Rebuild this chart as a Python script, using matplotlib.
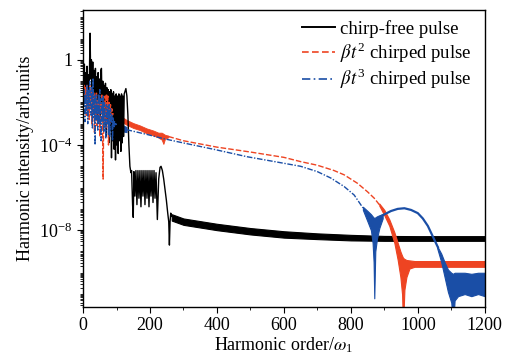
import numpy as np
import matplotlib
matplotlib.use("Agg")
from matplotlib import pyplot as plt
from matplotlib.ticker import FixedLocator, LogLocator, MultipleLocator, NullFormatter

plt.rcParams['font.family'] = ['Liberation Serif', 'DejaVu Serif']
plt.rcParams['mathtext.fontset'] = 'stix'

# ---- data (y values as log10 of intensity) ----
# chirp-free pulse: noisy low orders, comb, hump
black_x = [0, 2, 4, 6, 8, 10, 12, 14, 16, 18, 20, 21, 23, 25, 27, 29, 31, 33, 35, 37,
           39, 41, 43, 45, 47, 49, 51, 53, 55, 57, 59, 61, 63, 65, 67, 69, 71, 73, 75, 77,
           79, 81, 83, 85, 87, 89, 91, 93, 95, 97, 99, 101, 103, 105, 107, 109, 111, 113,
           115, 117, 119, 121, 123, 125, 128, 131, 134, 137, 140, 143, 145, 148, 150, 152,
           155, 158, 161, 164, 167, 170, 173, 176, 179, 182, 185, 188, 191, 194, 197, 200,
           203, 206, 209, 212, 215, 218, 222, 226, 230, 233, 237, 241, 245, 249, 253, 256,
           258, 260, 262, 265]
black_logy = [-0.6, -1.8, -0.2, -2.0, -0.6, -1.6, -0.3, -2.2, -0.7, -1.9, 0.3, 1.25, -0.9,
              0.0, -1.8, -0.1, -2.0, -0.5, -2.4, -0.4, -1.9, -0.8, -2.6, -0.6, -2.2, -0.9,
              -3.0, -0.5, -0.4, -2.5, -1.0, -3.2, -1.2, -2.8, -1.1, -3.6, -1.3, -3.0, -1.4,
              -3.9, -1.5, -3.3, -1.4, -4.6, -1.6, -3.8, -1.5, -4.2, -1.7, -4.7, -1.6, -4.0,
              -1.7, -4.4, -1.6, -3.8, -1.7, -4.3, -1.6, -3.9, -1.7, -3.6, -1.6, -1.5, -1.35,
              -1.7, -2.6, -4.0, -5.0, -5.3, -5.2, -6.8, -7.4, -5.25, -6.4, -5.2, -6.8, -5.2,
              -6.5, -5.2, -6.9, -5.2, -6.4, -5.2, -6.8, -5.2, -6.5, -5.2, -6.9, -5.2, -6.4,
              -5.2, -6.7, -5.2, -6.5, -5.3, -7.5, -5.6, -5.05, -5.0, -5.2, -5.6, -6.1, -6.6,
              -7.2, -7.6, -8.7, -7.6, -7.2, -7.35]
# chirp-free plateau band (upper / lower edge)
black_band_x = [265, 300, 400, 500, 600, 700, 800, 900, 1000, 1100, 1200]
black_band_hi = [-7.25, -7.45, -7.7, -7.9, -8.05, -8.15, -8.22, -8.27, -8.28, -8.28, -8.28]
black_band_lo = [-7.55, -7.75, -8.0, -8.2, -8.35, -8.42, -8.48, -8.5, -8.5, -8.5, -8.5]

# beta t^2 chirped pulse
red_x = [0, 2, 4, 6, 8, 10, 12, 14, 16, 18, 20, 22, 24, 26, 28, 30, 32, 34, 36, 38, 40,
         42, 44, 46, 48, 50, 52, 54, 56, 58, 60, 62, 64, 66, 68, 70, 72, 74, 76, 78, 80,
         82, 84, 86, 88, 90]
red_logy = [-0.8, -1.8, -1.2, -2.0, -1.3, -2.6, -1.2, -2.4, -1.6, -2.8, -1.2, -2.3, -1.4,
            -3.0, -1.6, -2.5, -1.5, -3.4, -1.8, -2.6, -1.5, -3.1, -1.9, -2.7, -1.7, -3.6,
            -1.9, -2.5, -1.6, -3.0, -5.6, -2.2, -2.8, -1.7, -3.2, -1.6, -2.6, -1.7, -4.0,
            -2.0, -3.0, -2.1, -2.9, -2.3, -2.6, -2.5]
red_band_x = [90, 110, 130, 150, 170, 190, 210, 225, 235, 240, 245, 255]
red_band_hi = [-2.4, -2.62, -2.82, -2.97, -3.08, -3.22, -3.32, -3.42, -3.42, -3.47, -3.52, -3.56]
red_band_lo = [-2.6, -2.85, -3.05, -3.2, -3.3, -3.45, -3.55, -3.65, -3.75, -3.95, -3.7, -3.64]
red_dash_x = [255, 300, 400, 500, 600, 650, 700, 750, 780, 800, 820, 850, 870, 890]
red_dash_logy = [-3.6, -3.8, -4.1, -4.33, -4.58, -4.78, -4.95, -5.2, -5.4, -5.6, -5.8,
                 -6.2, -6.5, -6.9]
red_tail_x = [885, 900, 915, 930, 940, 948, 953, 956, 960, 966, 975, 990, 1050, 1100,
              1150, 1200]
red_tail_hi = [-6.75, -7.05, -7.5, -8.1, -8.6, -9.0, -9.2, -9.3, -9.35, -9.4, -9.42,
               -9.45, -9.45, -9.45, -9.45, -9.45]
red_tail_lo = [-6.85, -7.3, -7.8, -8.6, -9.4, -10.2, -11.0, -12.5, -10.8, -10.2, -9.8,
               -9.72, -9.72, -9.72, -9.72, -9.72]

# beta t^3 chirped pulse
blue_x = [0, 2, 4, 6, 8, 10, 12, 14, 16, 18, 20, 22, 24, 26, 28, 30, 32, 34, 36, 38, 40,
          42, 44, 46, 48, 50, 52, 54, 56, 58, 60, 62, 64, 66, 68, 70, 72, 74, 76, 78, 80,
          82, 84, 86, 88, 90, 92, 94, 96, 98, 100]
blue_logy = [-1.0, -2.2, -1.4, -2.9, -1.6, -2.5, -1.2, -3.0, -1.4, -2.3, -1.0, -2.0, -2.6,
             -1.3, -3.2, -0.85, -2.7, -1.7, -4.0, -1.6, -2.8, -2.0, -3.3, -1.6, -3.0, -1.4,
             -2.6, -3.8, -1.8, -2.9, -1.7, -3.4, -2.0, -2.7, -3.7, -2.1, -3.0, -2.2, -3.5,
             -2.1, -3.6, -2.3, -2.9, -2.6, -3.8, -2.7, -3.2, -2.9, -3.1, -3.0, -3.05]
blue_band_x = [100, 115, 130]
blue_band_hi = [-2.9, -3.05, -3.15]
blue_band_lo = [-3.2, -3.35, -3.4]
blue_dash_x = [130, 190, 240, 290, 390, 490, 590, 650, 700, 740, 780, 810, 836]
blue_dash_logy = [-3.28, -3.5, -3.7, -3.87, -4.2, -4.55, -4.83, -5.0, -5.25, -5.55,
                  -5.95, -6.35, -6.95]
blue_dip_x = [836, 850, 860, 865, 868, 870, 873, 878, 885, 895]
blue_dip_hi = [-6.9, -7.1, -7.25, -7.35, -7.4, -7.45, -7.4, -7.35, -7.3, -7.25]
blue_dip_lo = [-7.05, -7.6, -8.0, -8.6, -9.5, -11.2, -9.0, -8.4, -7.9, -7.45]
blue_hump_x = [895, 920, 940, 960, 980, 1000, 1015, 1030, 1045, 1060]
blue_hump_logy = [-7.3, -7.1, -7.0, -6.97, -7.05, -7.2, -7.45, -7.8, -8.3, -8.8]
blue_tail_x = [1058, 1070, 1080, 1090, 1100, 1105, 1110, 1120, 1140, 1160, 1180, 1200]
blue_tail_hi = [-8.75, -9.1, -9.5, -9.85, -10.0, -10.05, -10.0, -10.0, -10.0, -10.05,
                -10.0, -10.0]
blue_tail_lo = [-8.85, -9.5, -10.2, -10.9, -11.4, -12.5, -11.3, -11.1, -11.0, -11.1,
                -11.0, -11.1]

RED = '#ee4422'
BLUE = '#1a4ea6'


def p10(v):
    # convert log10 values back to intensity
    return np.power(10.0, np.array(v))


fig = plt.figure(figsize=(5.19, 3.56), dpi=100)
ax = fig.add_axes([0.160, 0.138, 0.774, 0.834])

# chirp-free
ax.plot(black_x, p10(black_logy), color='black', lw=1.0)
ax.fill_between(black_band_x, p10(black_band_lo), p10(black_band_hi), color='black', lw=0.8)

# beta t^2
ax.plot(red_x, p10(red_logy), color=RED, lw=1.0, dashes=(4, 1.5))
ax.fill_between(red_band_x, p10(red_band_lo), p10(red_band_hi), color=RED, lw=0.6)
ax.plot(red_dash_x, p10(red_dash_logy), color=RED, lw=1.0, dashes=(4, 1.5))
ax.fill_between(red_tail_x, p10(red_tail_lo), p10(red_tail_hi), color=RED, lw=0.8)

# beta t^3
ax.plot(blue_x, p10(blue_logy), color=BLUE, lw=1.0, dashes=(4, 1.2, 1, 1.2))
ax.fill_between(blue_band_x, p10(blue_band_lo), p10(blue_band_hi), color=BLUE, lw=0.6)
ax.plot(blue_dash_x, p10(blue_dash_logy), color=BLUE, lw=1.0, dashes=(4, 1.2, 1, 1.2))
ax.fill_between(blue_dip_x, p10(blue_dip_lo), p10(blue_dip_hi), color=BLUE, lw=0.8)
ax.plot(blue_hump_x, p10(blue_hump_logy), color=BLUE, lw=1.6)
ax.fill_between(blue_tail_x, p10(blue_tail_lo), p10(blue_tail_hi), color=BLUE, lw=0.8)

# legend handles only
ax.plot([], [], color='black', lw=1.4, label='chirp-free pulse')
ax.plot([], [], color=RED, lw=1.2, dashes=(4, 2), label=r'$\beta t^{\mathregular{2}}$ chirped pulse')
ax.plot([], [], color=BLUE, lw=1.2, dashes=(5, 2, 1, 2), label=r'$\beta t^{\mathregular{3}}$ chirped pulse')
h, l = ax.get_legend_handles_labels()
ax.legend(h[-3:], l[-3:], loc='upper right', frameon=False, fontsize=13.5,
          handlelength=1.75, handletextpad=0.3, labelspacing=0.12,
          bbox_to_anchor=(1.0, 1.01), borderaxespad=0.3)

ax.set_yscale('log')
ax.set_xlim(0, 1200)
ax.set_ylim(2.5e-12, 2.2e2)
ax.xaxis.set_major_locator(MultipleLocator(200))
ax.xaxis.set_minor_locator(MultipleLocator(100))
ax.yaxis.set_major_locator(FixedLocator([1, 1e-4, 1e-8]))
ax.set_yticklabels(['1', r'10$^{\mathregular{-4}}$', r'10$^{\mathregular{-8}}$'])
ax.yaxis.set_minor_locator(LogLocator(base=10, subs=np.arange(1, 10), numticks=300))
ax.yaxis.set_minor_formatter(NullFormatter())
ax.tick_params(axis='both', which='major', labelsize=13, length=4, width=0.8, direction='out')
ax.tick_params(axis='both', which='minor', length=2.5, width=0.6, direction='out')
for s in ax.spines.values():
    s.set_linewidth(1.0)

ax.set_xlabel(r'Harmonic order/$\omega_{\mathregular{1}}$', fontsize=13, labelpad=1)
ax.set_ylabel('Harmonic intensity/arb.units', fontsize=13, labelpad=4)

fig.savefig('out.png', dpi=100)
